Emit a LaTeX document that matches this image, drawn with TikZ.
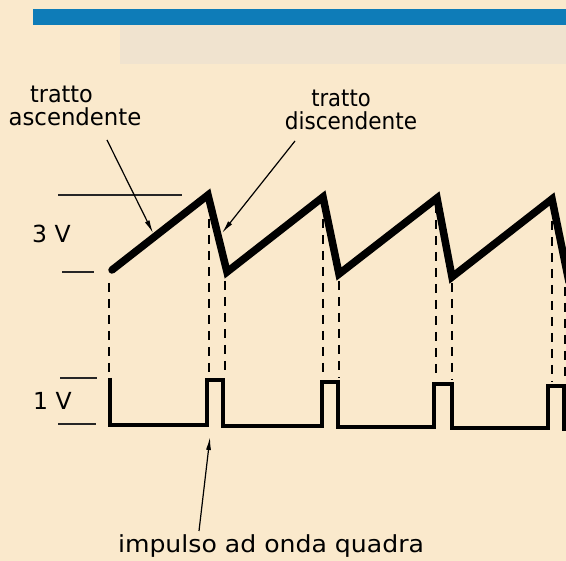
\documentclass[tikz,border=0pt]{standalone}
\usepackage{fontspec}
\setmainfont{DejaVu Sans}
\usetikzlibrary{arrows.meta}
\definecolor{paper}{RGB}{250,233,204}
\definecolor{barblue}{RGB}{14,124,184}
\definecolor{ghost}{RGB}{240,227,207}
\begin{document}
\begin{tikzpicture}[x=1pt,y=-1pt,
  lbl/.style={font=\fontsize{23.5}{28}\selectfont, inner sep=0pt, text=black},
  saw/.style={line width=7.5pt, line join=miter, miter limit=20, line cap=round},
  pulse/.style={line width=4.5pt, line join=miter},
  refl/.style={line width=1.3pt, black!85},
  guide/.style={line width=2pt, dash pattern=on 9pt off 7pt},
  pointer/.style={line width=1.2pt, -{Latex[length=13pt,width=5pt]}}]
\useasboundingbox (0,0) rectangle (566,561);
\fill[paper] (0,0) rectangle (566,561);
\fill[ghost] (120,25) rectangle (566,64);
\fill[barblue] (33,9) rectangle (566,25);
\begin{scope}
\clip (0,0) rectangle (566,561);
% sawtooth
\draw[saw] (112,270) -- (208,195) -- (227,272) -- (323,197) -- (339,274)
  -- (437,198) -- (452,277) -- (552,199) -- (569,282);
% square wave
\draw[pulse] (110,378) -- (110,425) -- (207,425) -- (207,380) -- (223,380)
  -- (223,426) -- (322,426) -- (322,382) -- (338,382) -- (338,427)
  -- (434,427) -- (434,384) -- (452,384) -- (452,428) -- (548,428)
  -- (548,386) -- (564,386) -- (564,429) -- (570,429);
% dashed guides
\draw[guide] (109,283) -- (109,376);
\draw[guide] (209,203) -- (209,376);
\draw[guide] (225,281) -- (225,376);
\draw[guide] (323,203) -- (323,378);
\draw[guide] (339,281) -- (339,378);
\draw[guide] (436,204) -- (436,380);
\draw[guide] (452,283) -- (452,380);
\draw[guide] (552,205) -- (552,382);
\draw[guide] (565,287) -- (565,382);
\end{scope}
% reference levels
\draw[refl] (58,195) -- (182,195);
\draw[refl] (62,272) -- (94,272);
\draw[refl] (60,378) -- (97,378);
\draw[refl] (58,424) -- (96,424);
% labels
\node[lbl, anchor=base] (t1) at (61.5,103) {\scalebox{0.95}[1]{tratto}};
\node[lbl, anchor=base] (asc) at (75,126) {\scalebox{0.97}[1]{ascendente}};
\node[lbl, anchor=base] (t2) at (341,107) {\scalebox{0.9}[1]{tratto}};
\node[lbl, anchor=base] (disc) at (351,130) {\scalebox{0.92}[1]{discendente}};
\node[lbl, anchor=base west] (v3) at (32,243) {3 V};
\node[lbl, anchor=base west] (v1) at (33,410) {1 V};
\node[lbl, anchor=base] (imp) at (271,553) {\scalebox{1.07}[1]{impulso ad onda quadra}};
% pointers
\coordinate (ascTail) at (107,140);
\coordinate (ascTip) at (153,233);
\coordinate (discTail) at (295,141);
\coordinate (discTip) at (222,233);
\coordinate (impTail) at (199,531);
\coordinate (impTip) at (210,437);
\draw[pointer] (ascTail) -- (ascTip);
\draw[pointer] (discTail) -- (discTip);
\draw[pointer] (impTail) -- (impTip);
\end{tikzpicture}
\end{document}
